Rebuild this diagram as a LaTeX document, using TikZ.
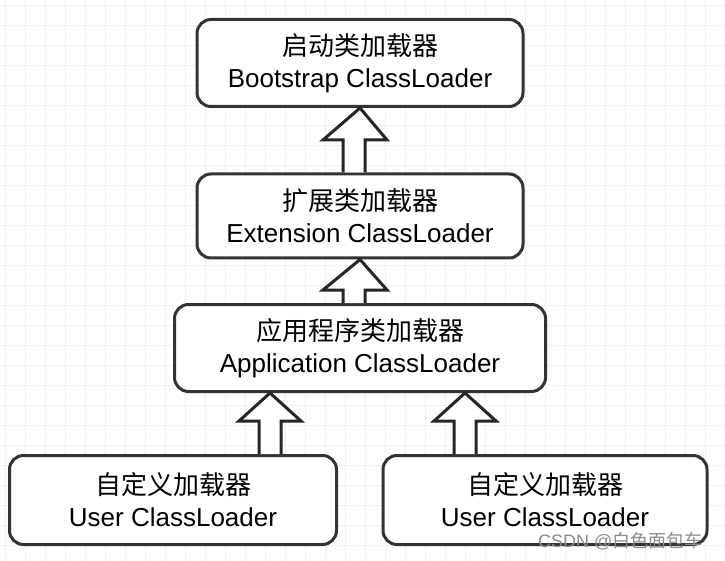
\documentclass[tikz,border=0pt]{standalone}
\usepackage{fontspec}
\setmainfont{Liberation Sans}
\newfontfamily\cjk{Noto Sans CJK SC}
\begin{document}
\begin{tikzpicture}[x=1pt,y=-1pt,
  box/.style={draw=black!80,line width=3pt,rounded corners=14pt,fill=white,align=center,font=\fontsize{26}{32}\selectfont,inner sep=0pt},
  blk/.style={draw=black!85,line width=3pt,fill=white,line join=miter}]
\useasboundingbox (0,0) rectangle (725,561);
\fill[white] (0,0) rectangle (725,561);
\foreach \i in {0,...,36} \draw[blue!10!black!6,line width=0.6pt] (\i*20+5,0) -- (\i*20+5,561);
\foreach \j in {0,...,28} \draw[blue!10!black!6,line width=0.6pt] (0,\j*20+5) -- (725,\j*20+5);
\node[box,minimum width=326pt,minimum height=87pt] (b) at (360,63) {{\cjk 启动类加载器}\\Bootstrap ClassLoader};
\node[box,minimum width=326pt,minimum height=84pt] (e) at (360,216) {{\cjk 扩展类加载器}\\Extension ClassLoader};
\node[box,minimum width=371pt,minimum height=87pt] (a) at (360,348) {{\cjk 应用程序类加载器}\\Application ClassLoader};
\node[box,minimum width=327pt,minimum height=89pt] (u1) at (173,500) {{\cjk 自定义加载器}\\User ClassLoader};
\node[box,minimum width=324pt,minimum height=89pt] (u2) at (545,500) {{\cjk 自定义加载器}\\User ClassLoader};
% block arrows
\draw[blk] (e.north -| 343,0) -- (343,140) -- (323,140) -- (b.south) -- (387,140) -- (365,140) -- (e.north -| 365,0) ;
\draw[blk] (a.north -| 343,0) -- (343,290) -- (323,290) -- (e.south) -- (387,290) -- (365,290) -- (a.north -| 365,0);
\draw[blk] (u1.north -| 259,0) -- (259,421) -- (239,421) -- (a.south -| 270,0) -- (301,421) -- (281,421) -- (u1.north -| 281,0);
\draw[blk] (u2.north -| 454,0) -- (454,421) -- (434,421) -- (a.south -| 465,0) -- (496,421) -- (476,421) -- (u2.north -| 476,0);
\node[text=black!45,font=\fontsize{18}{20}\selectfont,anchor=east] (wm) at (706,541) {CSDN @{\cjk 白色面包车}};
\end{tikzpicture}
\end{document}
